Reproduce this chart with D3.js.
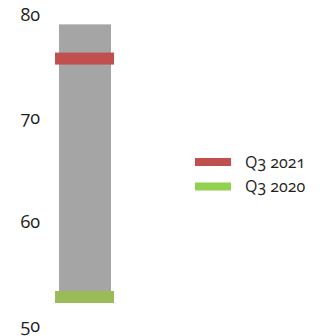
<!DOCTYPE html>
<html>
<head>
<meta charset="utf-8">
<script src="https://cdn.jsdelivr.net/npm/d3@7"></script>
<style>
  body { margin: 0; background: #fff; }
  svg text { font-family: "Open Sans", Lato, sans-serif; font-variant-numeric: oldstyle-nums; font-feature-settings: "onum"; fill: #222; }
</style>
</head>
<body>
<svg id="chart"></svg>
<script>
const seriesNames = ['Q3 2021', 'Q3 2020'];
const seriesValues = [75.7, 52.7];
const seriesColors = ['#c0504d', '#9bbb59'];
const legendColors = ['#c0504d', '#92d050'];
const rangeValues = [52.7, 79.0];
const yTicks = [50, 60, 70, 80];

const width = 326, height = 336;
const svg = d3.select('#chart')
      .attr('width', width)
      .attr('height', height);

const yscale = d3.scaleLinear()
      .domain([50, 80])
      .range([325, 14]);

const yaxis = d3.axisLeft(yscale)
      .tickValues(yTicks)
      .tickSize(0)
      .tickPadding(0);

svg.append('g')
      .attr('transform', 'translate(40, 0)')
      .call(yaxis)
      .call(g => g.select('.domain').remove())
      .selectAll('text')
      .style('font-size', '18px')
      .attr('dy', '0.35em');

// floating range bar
svg.append('rect')
      .attr('x', 59)
      .attr('width', 52)
      .attr('y', yscale(rangeValues[1]))
      .attr('height', yscale(rangeValues[0]) - yscale(rangeValues[1]))
      .style('fill', '#a5a5a5');

// markers for each series
const band_h = 12;
svg.selectAll('rect.marker')
      .data(seriesValues)
      .join('rect')
      .attr('class', 'marker')
      .attr('x', 55)
      .attr('width', 59)
      .attr('y', d => yscale(d) - band_h / 2)
      .attr('height', band_h)
      .style('fill', (d, i) => seriesColors[i]);

// legend
const legend = svg.append('g')
      .attr('transform', 'translate(195, 162)');

const item = legend.selectAll('g')
      .data(seriesNames)
      .join('g')
      .attr('transform', (d, i) => `translate(0, ${i * 24.5})`);

item.append('rect')
      .attr('x', 0)
      .attr('y', -4)
      .attr('width', 36)
      .attr('height', 8)
      .style('fill', (d, i) => legendColors[i]);

item.append('text')
      .attr('x', 50)
      .attr('dy', '0.35em')
      .style('font-size', '16px')
      .text(d => d);
</script>
</body>
</html>
